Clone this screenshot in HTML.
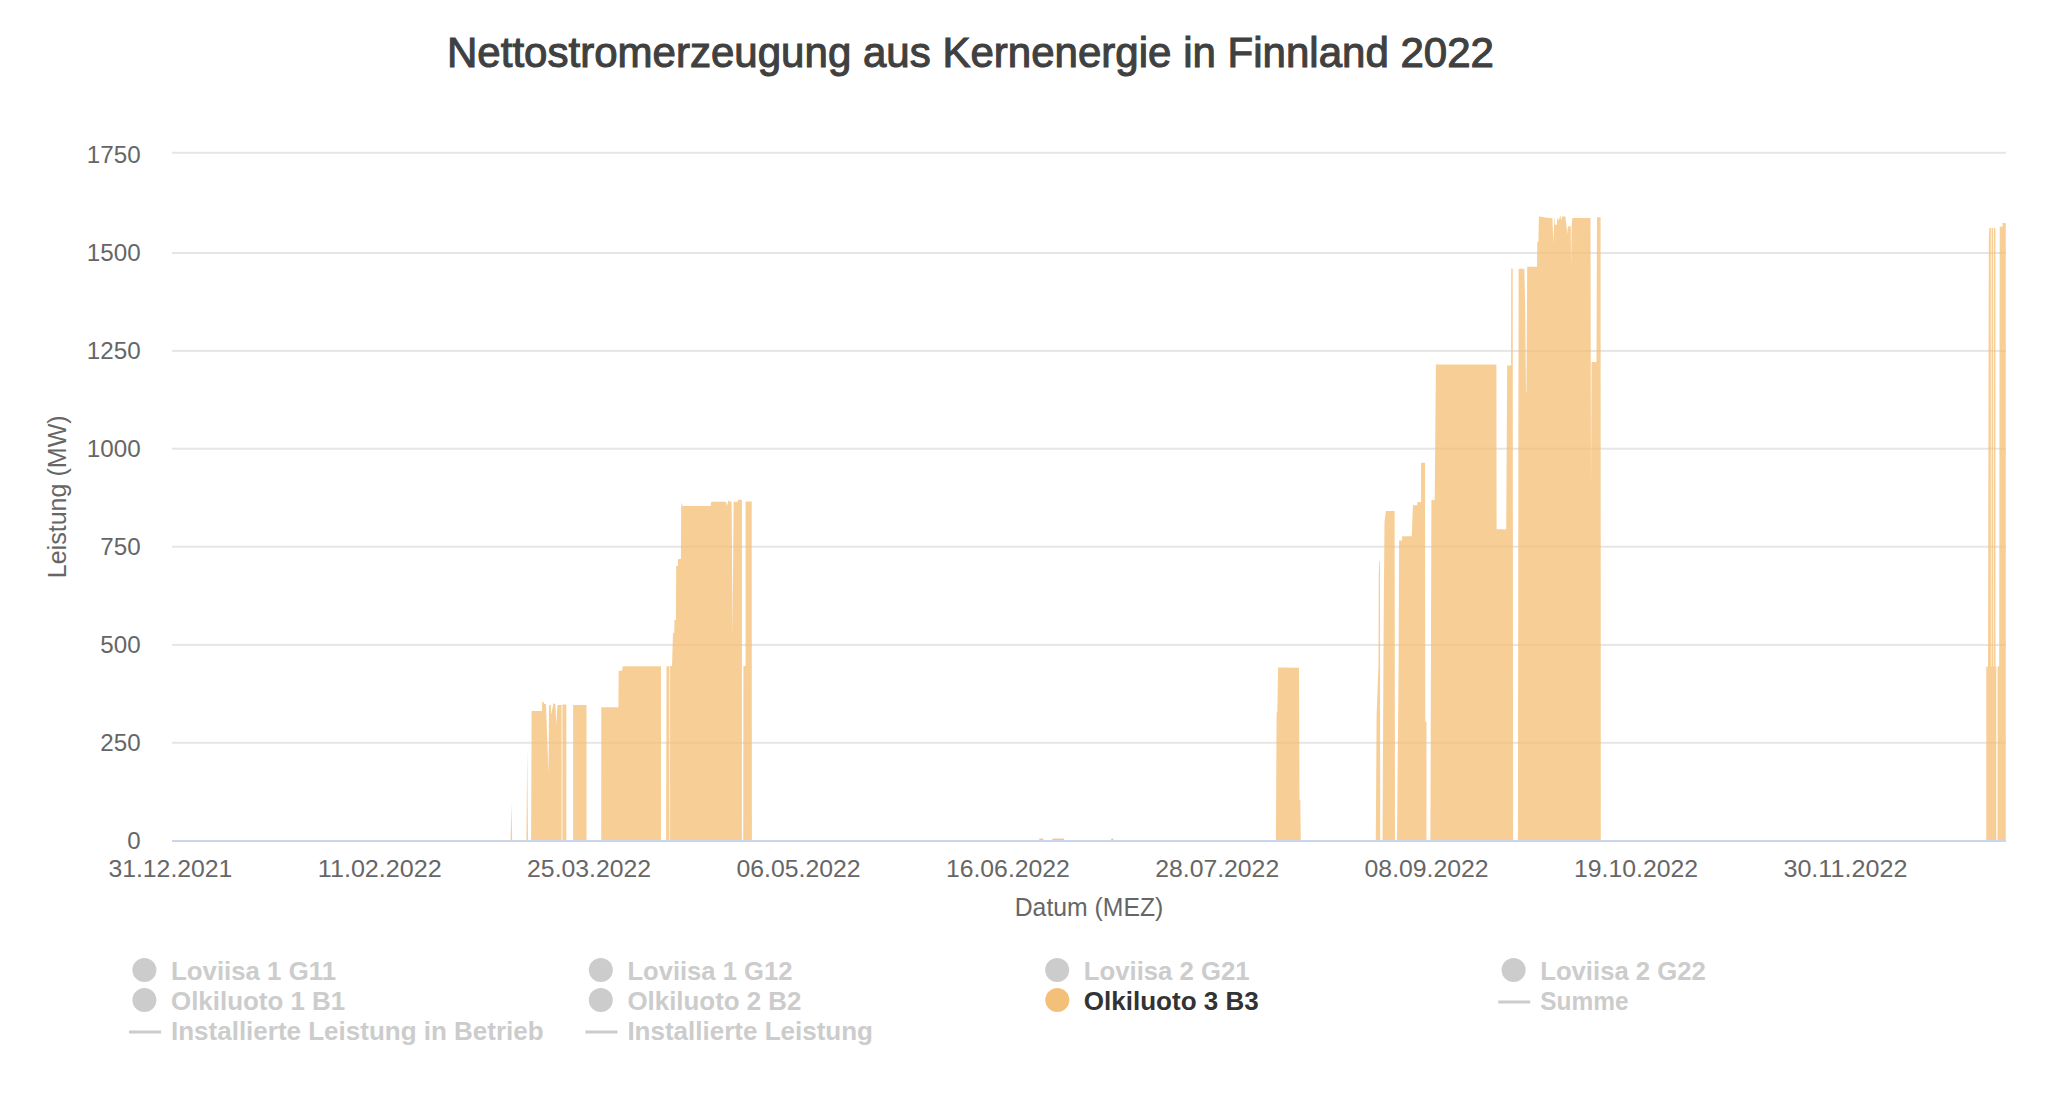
<!DOCTYPE html>
<html><head><meta charset="utf-8"><style>html,body{margin:0;padding:0;background:#fff;overflow:hidden}text{font-family:"Liberation Sans",sans-serif}</style></head>
<body><svg width="2056" height="1104" viewBox="0 0 2056 1104" style="display:block">
<rect width="2056" height="1104" fill="#ffffff"/>
<rect x="172" y="151.80" width="1834" height="2" fill="#e6e6e6"/>
<rect x="172" y="252.00" width="1834" height="2" fill="#e6e6e6"/>
<rect x="172" y="349.90" width="1834" height="2" fill="#e6e6e6"/>
<rect x="172" y="447.70" width="1834" height="2" fill="#e6e6e6"/>
<rect x="172" y="545.70" width="1834" height="2" fill="#e6e6e6"/>
<rect x="172" y="643.90" width="1834" height="2" fill="#e6e6e6"/>
<rect x="172" y="741.80" width="1834" height="2" fill="#e6e6e6"/>
<g fill="rgba(244,190,115,0.75)">
<path d="M510.6,841 L511.4,803.6 L512.2,841 Z"/>
<path d="M526.4,841 L527.2,747 L528.0,841 Z"/>
<path d="M531.1,841 L531.6,711 L542,711 L542.1,702 L543.8,702 L543.8,704 L546,704 L548.5,774 L549,705 L550.7,705 L551.2,714.5 L553.5,703 L555.5,704.5 L556.2,725 L557.5,705 L561.6,705 L561.6,841 Z"/>
<path d="M562.4,841 L562.4,704.5 L566.4,704.5 L566.4,841 Z"/>
<path d="M573.1,841 L573.1,705 L586.5,705 L586.5,841 Z"/>
<path d="M601.2,841 L601.3,707.2 L618.4,707.2 L618.7,670.8 L622.2,670.8 L622.6,666.3 L661,666.3 L661,841 Z"/>
<path d="M666.1,841 L666.5,666.3 L669.4,666.3 L669.4,841 Z"/>
<path d="M670.1,841 L670.1,666 L672,666 L673,633 L674.2,633 L674.5,620 L675.9,620 L676.2,566 L677.8,566 L678.1,559 L680.9,559 L681.2,506 L682,502.5 L682.6,505.9 L710.7,505.9 L711.2,501.8 L726.1,501.8 L726.8,506 L728.5,500.4 L730.8,501.8 L731.6,501.8 L732.6,635 L733.6,501.8 L737.8,501.8 L738,499.8 L741.9,499.8 L741.9,841 Z"/>
<path d="M743.2,841 L743.4,666 L745.6,666 L745.6,501.4 L751.7,501.4 L751.9,841 Z"/>
<path d="M1275.9,841 L1276.6,713 L1277.3,712 L1278.1,667.5 L1299,667.8 L1299.5,800 L1300.3,800 L1300.8,841 Z"/>
<path d="M1375.8,841 L1376.6,715 L1378.5,665 L1378.8,573 L1379.4,561 L1380,561 L1380.2,841 Z"/>
<path d="M1382.5,841 L1383.8,600 L1384.5,521.7 L1385.9,510.9 L1394.6,510.9 L1395,841 Z"/>
<path d="M1397,841 L1398.6,666 L1399.1,540.5 L1402.1,540.5 L1402.1,536.2 L1411.8,536.2 L1412.9,505.2 L1417.3,505.2 L1417.3,502 L1421.1,502 L1421.1,462.8 L1425,462.8 L1425.3,721.5 L1426.5,721.5 L1426.5,841 Z"/>
<path d="M1430.4,841 L1431.4,500 L1434.7,500 L1435.9,364.5 L1496.4,364.5 L1496.6,529.3 L1506.2,529.3 L1507.2,365.6 L1511.1,365.6 L1511.2,268.5 L1512.7,268.5 L1513.1,841 Z"/>
<path d="M1517.9,841 L1518.6,268.8 L1524.3,268.8 L1525.1,302 L1526,392.8 L1526.4,392.8 L1527.2,266.8 L1537,266.8 L1537.3,242 L1538.4,241.8 L1538.9,216.4 L1545,217.5 L1552.4,218.3 L1553.4,243.7 L1554.3,217.5 L1554.6,217.5 L1554.9,224.7 L1556.9,224.7 L1557.2,219 L1558,218 L1558.6,221 L1560.4,215.1 L1561,219.6 L1561.6,219.6 L1562,216.4 L1565.4,216.4 L1567.3,233.9 L1567.9,226.2 L1570.7,226.2 L1571.1,265.2 L1571.6,226.2 L1572.4,218 L1590.5,218 L1591,488.6 L1591.6,362 L1596.5,362 L1597,217.2 L1600.6,217.2 L1600.8,841 Z"/>
<path d="M1986.3,841 L1986.3,666.4 L1988,666.4 L1988.8,240 L1989.2,228 L1990.8,228 L1990.9,666.4 L1991.5,666.4 L1991.6,228 L1993,228 L1993.1,666.4 L1993.7,666.4 L1993.8,228 L1995.4,228 L1995.5,666.4 L1996.3,666.4 L1996.3,841 Z"/>
<path d="M1997.6,841 L1997.6,666.4 L1999.2,666.4 L1999.7,226.7 L2002.5,226.7 L2002.5,223 L2005.8,223 L2005.8,841 Z"/>
</g>
<g fill="#f4c584">
<rect x="1039.3" y="838.6" width="4.0" height="1.6"/>
<rect x="1052.4" y="838.6" width="11.5" height="1.6"/>
<rect x="1111.2" y="838.6" width="2.2" height="1.6"/>
</g>
<rect x="172" y="840.00" width="1834" height="2" fill="#ccd6eb"/>
<text x="970.5" y="66.8" text-anchor="middle" font-family="Liberation Sans" font-size="43" fill="#404040" stroke="#404040" stroke-width="1.1" textLength="1047" lengthAdjust="spacingAndGlyphs">Nettostromerzeugung aus Kernenergie in Finnland 2022</text>
<text x="140.6" y="163.00" text-anchor="end" font-family="Liberation Sans" font-size="24" fill="#666666" textLength="53.8" lengthAdjust="spacingAndGlyphs">1750</text>
<text x="140.6" y="261.07" text-anchor="end" font-family="Liberation Sans" font-size="24" fill="#666666" textLength="53.8" lengthAdjust="spacingAndGlyphs">1500</text>
<text x="140.6" y="359.14" text-anchor="end" font-family="Liberation Sans" font-size="24" fill="#666666" textLength="53.8" lengthAdjust="spacingAndGlyphs">1250</text>
<text x="140.6" y="457.21" text-anchor="end" font-family="Liberation Sans" font-size="24" fill="#666666" textLength="53.8" lengthAdjust="spacingAndGlyphs">1000</text>
<text x="140.6" y="555.28" text-anchor="end" font-family="Liberation Sans" font-size="24" fill="#666666" textLength="40.3" lengthAdjust="spacingAndGlyphs">750</text>
<text x="140.6" y="653.35" text-anchor="end" font-family="Liberation Sans" font-size="24" fill="#666666" textLength="40.3" lengthAdjust="spacingAndGlyphs">500</text>
<text x="140.6" y="751.42" text-anchor="end" font-family="Liberation Sans" font-size="24" fill="#666666" textLength="40.3" lengthAdjust="spacingAndGlyphs">250</text>
<text x="140.6" y="849.49" text-anchor="end" font-family="Liberation Sans" font-size="24" fill="#666666" textLength="13.4" lengthAdjust="spacingAndGlyphs">0</text>
<text x="170.4" y="877.1" text-anchor="middle" font-family="Liberation Sans" font-size="24" fill="#666666" textLength="124" lengthAdjust="spacingAndGlyphs">31.12.2021</text>
<text x="379.8" y="877.1" text-anchor="middle" font-family="Liberation Sans" font-size="24" fill="#666666" textLength="124" lengthAdjust="spacingAndGlyphs">11.02.2022</text>
<text x="589.1" y="877.1" text-anchor="middle" font-family="Liberation Sans" font-size="24" fill="#666666" textLength="124" lengthAdjust="spacingAndGlyphs">25.03.2022</text>
<text x="798.5" y="877.1" text-anchor="middle" font-family="Liberation Sans" font-size="24" fill="#666666" textLength="124" lengthAdjust="spacingAndGlyphs">06.05.2022</text>
<text x="1007.9" y="877.1" text-anchor="middle" font-family="Liberation Sans" font-size="24" fill="#666666" textLength="124" lengthAdjust="spacingAndGlyphs">16.06.2022</text>
<text x="1217.2" y="877.1" text-anchor="middle" font-family="Liberation Sans" font-size="24" fill="#666666" textLength="124" lengthAdjust="spacingAndGlyphs">28.07.2022</text>
<text x="1426.6" y="877.1" text-anchor="middle" font-family="Liberation Sans" font-size="24" fill="#666666" textLength="124" lengthAdjust="spacingAndGlyphs">08.09.2022</text>
<text x="1636.0" y="877.1" text-anchor="middle" font-family="Liberation Sans" font-size="24" fill="#666666" textLength="124" lengthAdjust="spacingAndGlyphs">19.10.2022</text>
<text x="1845.4" y="877.1" text-anchor="middle" font-family="Liberation Sans" font-size="24" fill="#666666" textLength="124" lengthAdjust="spacingAndGlyphs">30.11.2022</text>
<text x="1089" y="915.8" text-anchor="middle" font-family="Liberation Sans" font-size="25" fill="#666666" textLength="148.5" lengthAdjust="spacingAndGlyphs">Datum (MEZ)</text>
<text transform="translate(66.3,496.8) rotate(-90)" x="0" y="0" text-anchor="middle" font-family="Liberation Sans" font-size="25" fill="#666666" textLength="163" lengthAdjust="spacingAndGlyphs">Leistung (MW)</text>
<circle cx="144.4" cy="969.9" r="12" fill="#cccccc"/>
<text x="171" y="979.8" font-family="Liberation Sans" font-weight="bold" font-size="25" fill="#cccccc" textLength="165" lengthAdjust="spacingAndGlyphs">Loviisa 1 G11</text>
<circle cx="600.8" cy="969.9" r="12" fill="#cccccc"/>
<text x="627.4" y="979.8" font-family="Liberation Sans" font-weight="bold" font-size="25" fill="#cccccc" textLength="165" lengthAdjust="spacingAndGlyphs">Loviisa 1 G12</text>
<circle cx="1057.2" cy="969.9" r="12" fill="#cccccc"/>
<text x="1083.8" y="979.8" font-family="Liberation Sans" font-weight="bold" font-size="25" fill="#cccccc" textLength="165.8" lengthAdjust="spacingAndGlyphs">Loviisa 2 G21</text>
<circle cx="1513.6" cy="969.9" r="12" fill="#cccccc"/>
<text x="1540.2" y="979.8" font-family="Liberation Sans" font-weight="bold" font-size="25" fill="#cccccc" textLength="165.7" lengthAdjust="spacingAndGlyphs">Loviisa 2 G22</text>
<circle cx="144.4" cy="999.9" r="12" fill="#cccccc"/>
<text x="171" y="1009.8" font-family="Liberation Sans" font-weight="bold" font-size="25" fill="#cccccc" textLength="174.2" lengthAdjust="spacingAndGlyphs">Olkiluoto 1 B1</text>
<circle cx="600.8" cy="999.9" r="12" fill="#cccccc"/>
<text x="627.4" y="1009.8" font-family="Liberation Sans" font-weight="bold" font-size="25" fill="#cccccc" textLength="174.1" lengthAdjust="spacingAndGlyphs">Olkiluoto 2 B2</text>
<circle cx="1057.3" cy="1000.0" r="12" fill="#f3c07a"/>
<text x="1083.8" y="1009.8" font-family="Liberation Sans" font-weight="bold" font-size="25" fill="#333333" textLength="175" lengthAdjust="spacingAndGlyphs">Olkiluoto 3 B3</text>
<rect x="1498.2" y="1000.5" width="32" height="3" fill="#cccccc"/>
<text x="1540.2" y="1009.8" font-family="Liberation Sans" font-weight="bold" font-size="25" fill="#cccccc" textLength="88.4" lengthAdjust="spacingAndGlyphs">Summe</text>
<rect x="129.0" y="1030.5" width="32" height="3" fill="#cccccc"/>
<text x="171" y="1039.8" font-family="Liberation Sans" font-weight="bold" font-size="25" fill="#cccccc" textLength="372.6" lengthAdjust="spacingAndGlyphs">Installierte Leistung in Betrieb</text>
<rect x="585.4" y="1030.5" width="32" height="3" fill="#cccccc"/>
<text x="627.4" y="1039.8" font-family="Liberation Sans" font-weight="bold" font-size="25" fill="#cccccc" textLength="245.6" lengthAdjust="spacingAndGlyphs">Installierte Leistung</text>
</svg></body></html>
